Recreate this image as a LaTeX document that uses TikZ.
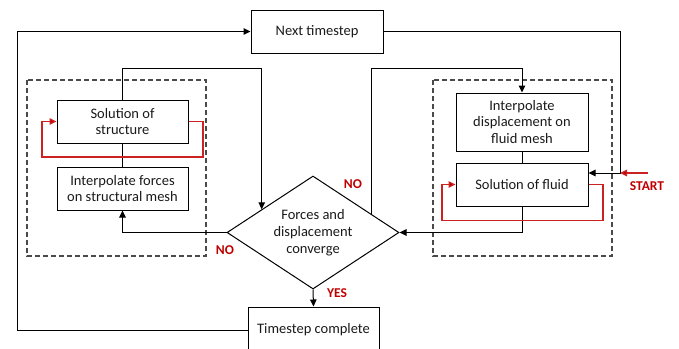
\documentclass[tikz,border=0pt]{standalone}
\usepackage{fontspec}
\setmainfont{Carlito}
\usetikzlibrary{arrows.meta,shapes.geometric,calc}
\definecolor{flowred}{HTML}{C00000}
\definecolor{loopred}{HTML}{CC2222}
\definecolor{groupgray}{HTML}{4A4A4A}
\definecolor{inktext}{HTML}{1A1A1A}
\begin{document}
\begin{tikzpicture}[x=1pt,y=-1pt,
  txt/.style={font=\fontsize{14.5}{16.8}\selectfont, text=inktext},
  box/.style={draw, line width=1pt, align=center, inner sep=0pt, txt},
  link/.style={line width=1pt, -{Triangle[length=7pt,width=6.5pt]}},
  plain/.style={line width=1pt},
  redlink/.style={line width=1.2pt, draw=loopred, -{Triangle[length=7pt,width=6.5pt,fill=flowred]}},
  group/.style={draw=groupgray, line width=1.1pt, dash pattern=on 5pt off 3pt},
  tag/.style={font=\bfseries\fontsize{13.5}{15}\selectfont, text=flowred}
]
\clip (0,0) rectangle (679,348);

% solver groups
\draw[group] (27,80) rectangle (206,256);
\draw[group] (433,80) rectangle (612,256);

% process boxes
\node[box, minimum width=132pt, minimum height=43pt] (next) at (317,31.5) {Next timestep};
\node[box, minimum width=131pt, minimum height=43pt] (sstruct) at (122.5,121.5) {Solution of\\structure};
\node[box, minimum width=131pt, minimum height=43pt] (istruct) at (122.5,188.5) {Interpolate forces\\on structural mesh};
\node[box, minimum width=132pt, minimum height=58pt] (idisp) at (522,122) {Interpolate\\displacement on\\fluid mesh};
\node[box, minimum width=132pt, minimum height=43pt] (sfluid) at (522,184.5) {Solution of fluid};
\node[box, minimum width=131pt, minimum height=46pt] (done) at (313.5,330) {Timestep complete};

% convergence check
\node[draw, line width=1pt, shape=diamond, aspect=1.5, inner sep=0pt,
      minimum width=172pt, minimum height=113pt, align=center, txt] (conv) at (313,232.5)
      {Forces and\\displacement\\converge};

% helper points
\coordinate (loopL) at (17,0);
\coordinate (rin) at (620,173);
\coordinate (startpt) at (648,173);
\coordinate (cin) at ($(conv.west)!0.407!(conv.north)$);
\coordinate (cout) at ($(conv.north)!0.674!(conv.east)$);
\coordinate (sloopR) at (203,157);
\coordinate (sloopL) at (42,157);
\coordinate (floopR) at (603,220.5);
\coordinate (floopL) at (442,220.5);

% time loop
\draw[link] (done.west) -- (done.west -| loopL) |- (next.west);
\draw[link] (next.east) -| (rin) -- (rin -| sfluid.east);
\draw[redlink] (startpt) -- (rin);

% structure side
\draw[plain] (sstruct.south) -- (istruct.north);
\draw[link] (sstruct.north) -- ++(0,-31.5) -| (cin);
\draw[link] (conv.west) -| (istruct.south);
\draw[redlink] (sstruct.east) -| (sloopR) -- (sloopL) |- (sstruct.west);

% fluid side
\draw[plain] (idisp.south) -- (sfluid.north);
\draw[link] (cout) |- ($(idisp.north)+(0,-24)$) -- (idisp.north);
\draw[link] (sfluid.south) |- (conv.east);
\draw[redlink] (sfluid.east) -| (floopR) -- (floopL) |- (sfluid.west);

% converged
\draw[link] (conv.south) -- (done.north);

% decision labels
\node[tag] (noL) at (225,250) {NO};
\node[tag] (noR) at (353,184) {NO};
\node[tag] (yes) at (337,293) {YES};
\node[tag] (start) at (647,186) {START};
\end{tikzpicture}
\end{document}
